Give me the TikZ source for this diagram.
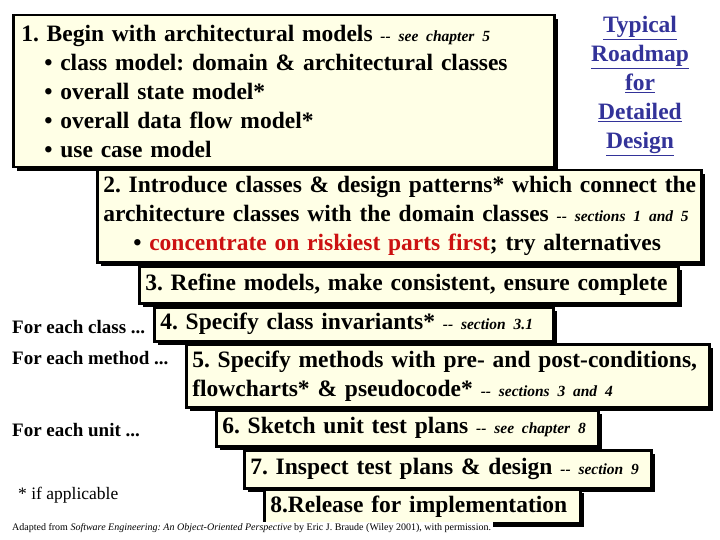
\documentclass[tikz,border=0pt]{standalone}
\usepackage{fontspec}
\setmainfont{Liberation Serif}
\usetikzlibrary{shadows}
\definecolor{boxfill}{HTML}{FFFFE6}
\definecolor{titleblue}{HTML}{333399}
\definecolor{riskred}{HTML}{CC1111}
\newcommand{\refnote}[1]{{\fontsize{15.5}{15.5}\selectfont\itshape -{}- #1}}
\newcommand{\bul}{\hspace*{23pt}\textbullet\ }
\frenchspacing
\tikzset{
  stepbox/.style={draw=black, line width=2.5pt, fill=boxfill, anchor=north west,
    inner xsep=6pt, inner ysep=0pt, align=left,
    font=\bfseries\fontsize{23.5}{29}\selectfont,
    drop shadow={shadow xshift=3.5pt, shadow yshift=-3.5pt, fill=black, opacity=1}},
  sidelabel/.style={anchor=west, font=\bfseries\fontsize{19}{22}\selectfont, inner sep=0pt},
  titletext/.style={align=center, text=titleblue, font=\bfseries\fontsize{23.5}{29}\selectfont, inner sep=0pt},
  footnote/.style={anchor=west, fill=white, inner xsep=2pt, inner ysep=1pt, font=\fontsize{10}{11}\selectfont}
}
\begin{document}
\begin{tikzpicture}[x=1pt,y=-1pt]
\useasboundingbox (0,0) rectangle (720,540);
\node[stepbox, minimum width=541pt, minimum height=152pt, text width=525pt] (b1) at (12,14) {\mbox{1. Begin with architectural models \refnote{see chapter 5}}\\
\mbox{\bul class model: domain \& architectural classes}\\
\bul overall state model*\\
\bul overall data flow model*\\
\bul use case model};
\node[titletext] (title) at (640,86) {\underline{Typical}\\ \underline{Roadmap}\\ \underline{for}\\ \underline{Detailed}\\ \underline{Design}};
\node[stepbox, minimum width=604pt, minimum height=92pt, text width=592pt, inner xsep=4pt] (b2) at (96,169) {\mbox{2. Introduce classes \& design patterns* which connect the}\\
\mbox{architecture classes with the domain classes \refnote{sections 1 and 5}}\\
\mbox{\hspace*{30pt}\textbullet\ \textcolor{riskred}{concentrate on riskiest parts first}; try alternatives}};
\node[stepbox, minimum width=539pt, minimum height=37pt, text width=527pt] (b3) at (138,265) {\mbox{3. Refine models, make consistent, ensure complete}};
\node[stepbox, minimum width=399pt, minimum height=34pt, text width=387pt] (b4) at (153,306) {\mbox{4. Specify class invariants* \refnote{section 3.1}}};
\node[stepbox, minimum width=523pt, minimum height=63pt, text width=511pt] (b5) at (185,343) {\mbox{5. Specify methods with pre- and post-conditions,}\\
\mbox{flowcharts* \& pseudocode* \refnote{sections 3 and 4}}};
\node[stepbox, minimum width=382pt, minimum height=36pt, text width=370pt] (b6) at (215,409) {\mbox{6. Sketch unit test plans \refnote{see chapter 8}}};
\node[stepbox, minimum width=407pt, minimum height=38pt, text width=395pt] (b7) at (243,449) {\mbox{7. Inspect test plans \& design \refnote{section 9}}};
\node[stepbox, minimum width=316pt, minimum height=34pt, text width=304pt] (b8) at (263,488) {\mbox{8.Release for implementation}};
\node[sidelabel] (lclass) at (12,327) {For each class ...};
\node[sidelabel] (lmethod) at (12,358) {For each method ...};
\node[sidelabel] (lunit) at (12,430) {For each unit ...};
\node[sidelabel, font=\fontsize{17.5}{20}\selectfont] (lapp) at (18,495) {* if applicable};
\node[footnote] (foot) at (10,528) {Adapted from \textit{Software Engineering: An Object-Oriented Perspective} by Eric J. Braude (Wiley 2001), with permission.};
\end{tikzpicture}
\end{document}
